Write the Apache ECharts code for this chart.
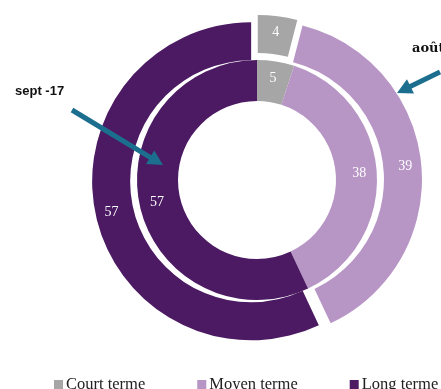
<!DOCTYPE html>
<html>
<head>
<meta charset="utf-8">
<script src="https://cdn.jsdelivr.net/npm/echarts@6/dist/echarts.min.js"></script>
<style>
  html, body { margin: 0; padding: 0; background: #ffffff; }
  #chart { width: 441px; height: 389px; }
</style>
</head>
<body>
<div id="chart"></div>
<script>
// Maturity breakdown (%), inner ring = sept-17, outer ring = août-18
const categories = ['Court terme', 'Moyen terme', 'Long terme'];
const sept17 = [5, 38, 57];
const aout18 = [4, 39, 57];
const colors = ['#A6A6A6', '#B795C5', '#4B1A62'];

const CX = 257, CY = 180;

const valueLabel = {
  show: true,
  position: 'inside',
  formatter: '{c}',
  color: '#ffffff',
  fontFamily: 'Liberation Serif',
  fontSize: 14
};

function ringData(values, selected) {
  return categories.map((name, i) => ({
    name: name,
    value: values[i],
    selected: selected,
    itemStyle: { color: colors[i] }
  }));
}

// Arrow drawn as a thick shaft plus a triangular head
function arrow(x1, y1, x2, y2, color) {
  const dx = x2 - x1, dy = y2 - y1;
  const len = Math.sqrt(dx * dx + dy * dy);
  const ux = dx / len, uy = dy / len;
  const px = -uy, py = ux;
  const headLen = 15, headHalf = 8;
  const bx = x2 - ux * headLen, by = y2 - uy * headLen;
  return [
    {
      type: 'line',
      z: 100,
      shape: { x1: x1, y1: y1, x2: bx + ux * 2, y2: by + uy * 2 },
      style: { stroke: color, lineWidth: 5 },
      silent: true
    },
    {
      type: 'polygon',
      z: 100,
      shape: { points: [[x2, y2], [bx + px * headHalf, by + py * headHalf], [bx - px * headHalf, by - py * headHalf]] },
      style: { fill: color },
      silent: true
    }
  ];
}

const arrowColor = '#1B6E8E';

const chart = echarts.init(document.getElementById('chart'), null, { renderer: 'canvas' });
chart.setOption({
  animation: false,
  color: colors,
  legend: {
    data: categories,
    left: 49,
    top: 371,
    width: 800,
    icon: 'rect',
    itemWidth: 9,
    itemHeight: 9,
    itemGap: 52,
    textStyle: {
      fontFamily: 'Liberation Serif',
      fontSize: 16.5,
      color: '#222222',
      padding: [0, 0, 0, -2]
    },
    selectedMode: false
  },
  series: [
    {
      name: 'sept -17',
      type: 'pie',
      center: [CX, CY],
      radius: [79, 120],
      startAngle: 90,
      clockwise: true,
      label: valueLabel,
      labelLine: { show: false },
      emphasis: { disabled: true },
      data: ringData(sept17, false)
    },
    {
      name: 'août-18',
      type: 'pie',
      center: [CX, CY],
      radius: [121, 159],
      startAngle: 90,
      clockwise: true,
      selectedMode: 'multiple',
      selectedOffset: 6,
      label: valueLabel,
      labelLine: { show: false },
      emphasis: { disabled: true },
      select: { itemStyle: {} },
      data: ringData(aout18, true).map((d, i) => i === 1 ? Object.assign(d, { label: { offset: [0, 8] } }) : d)
    }
  ],
  graphic: [
    {
      type: 'text',
      z: 100,
      left: 15,
      top: 85,
      style: {
        text: 'sept -17',
        font: 'bold 13px "Liberation Sans"',
        fill: '#111111'
      }
    },
    {
      type: 'text',
      z: 100,
      left: 412,
      top: 42,
      style: {
        text: 'août-18',
        font: 'bold 13px "DejaVu Serif"',
        fill: '#111111'
      }
    }
  ].concat(arrow(72, 110, 163, 165, arrowColor), arrow(440, 72, 397, 93, arrowColor))
});
</script>
</body>
</html>
